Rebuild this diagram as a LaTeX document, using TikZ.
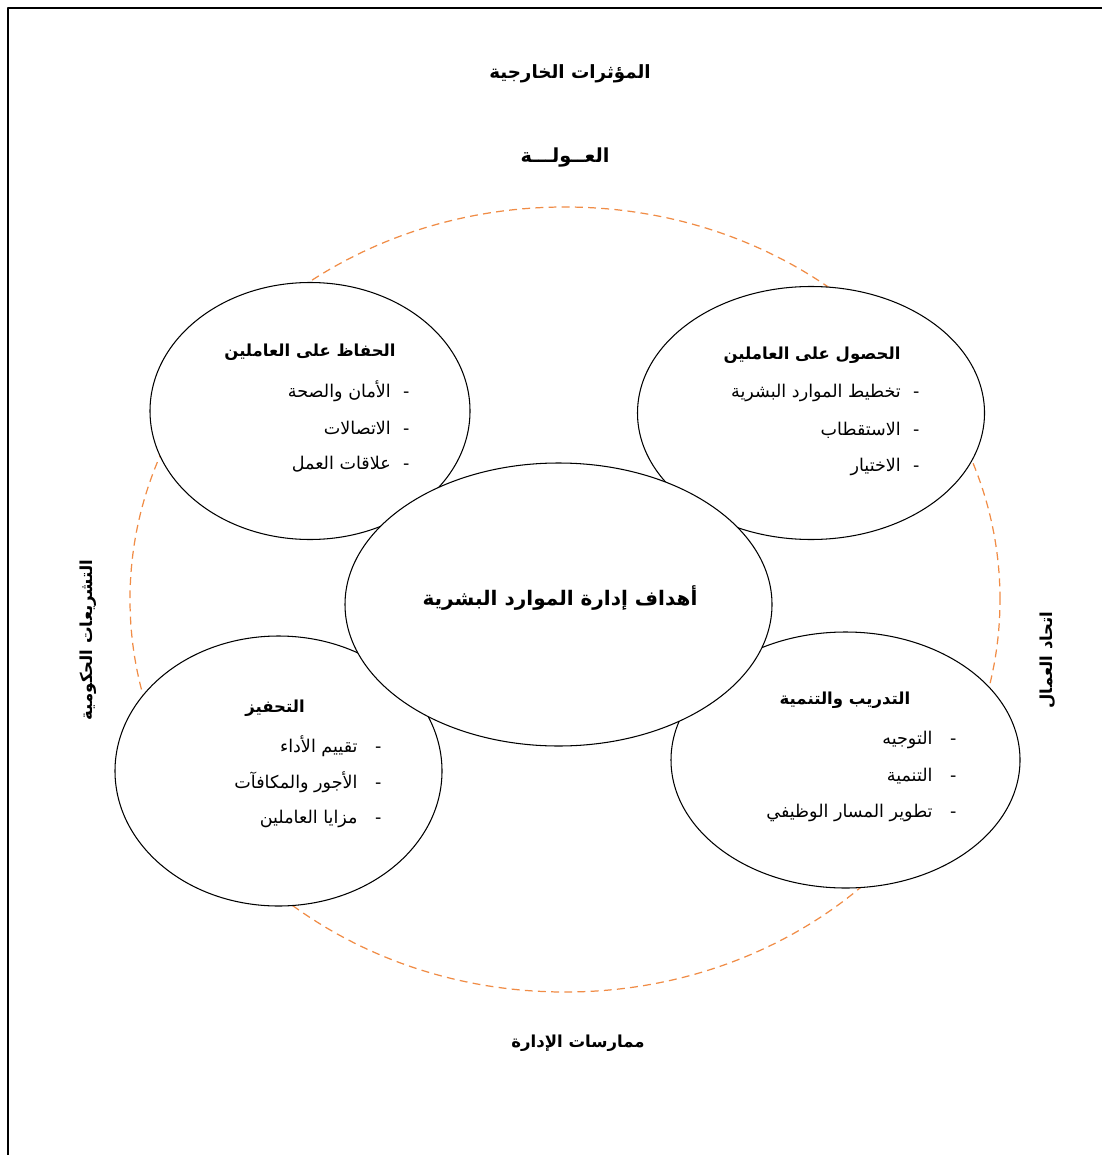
\documentclass[tikz,border=0pt]{standalone}
\usepackage{fontspec}
\newfontfamily\arabicfont[Script=Arabic]{DejaVu Sans}
\TeXXeTstate=1
\usetikzlibrary{shapes.geometric}
\definecolor{ring}{RGB}{240,140,70}
\newcommand{\ar}[1]{\beginR #1\endR}
\tikzset{
  every picture/.style={line width=0.6pt, line join=round},
  every node/.style={font=\arabicfont},
  % Ellipsen
  blob/.style={ellipse, draw, fill=white, inner sep=0pt},
  outer/.style={ring, line width=0.7pt, dash pattern=on 4.5pt off 3pt},
  % Schrift
  head/.style={font=\arabicfont\bfseries\fontsize{9.4}{11}\selectfont},
  big/.style={font=\arabicfont\bfseries\fontsize{10.4}{12}\selectfont},
  itm/.style={anchor=east, inner sep=0pt, font=\arabicfont\fontsize{10}{12}\selectfont},
}

\begin{document}
\begin{tikzpicture}
  \useasboundingbox (0,0) rectangle (22.2,-23.1);
  % Rahmen
  \draw[line width=1.2pt] (0.16,-23.1) -- (0.16,-0.16) -- (22.04,-0.16);
  % aeusserer Ring
  \draw[outer] (11.3,-11.99) ellipse [x radius=8.7, y radius=7.85];
  % Einflussfaktoren
  \node[big] (ext) at (11.4,-1.48) {\ar{المؤثرات الخارجية}};
  \node[head, font=\arabicfont\bfseries\fontsize{11}{13}\selectfont] (glob) at (11.3,-3.16) {\ar{العــولـــة}};
  \node[head, rotate=90] (law) at (1.76,-12.8) {\ar{التشريعات الحكومية}};
  \node[head, rotate=90] (union) at (20.96,-13.2) {\ar{اتحاد العمال}};
  \node[head] (mgmt) at (11.56,-20.86) {\ar{ممارسات الإدارة}};
  % Ellipsen
  \node[blob, minimum width=6.94cm, minimum height=5.06cm] (get) at (16.22,-8.26) {};
  \node[blob, minimum width=6.4cm, minimum height=5.14cm] (keep) at (6.2,-8.22) {};
  \node[blob, minimum width=6.54cm, minimum height=5.4cm] (motiv) at (5.57,-15.42) {};
  \node[blob, minimum width=6.98cm, minimum height=5.12cm] (train) at (16.91,-15.2) {};
  \node[blob, minimum width=8.54cm, minimum height=5.66cm] (goal) at (11.17,-12.09) {};
  \node[big, font=\arabicfont\bfseries\fontsize{11.4}{13}\selectfont] (goalt) at (11.2,-11.96) {\ar{أهداف إدارة الموارد البشرية}};
  % Inhalte oben rechts
  \node[head] (gett) at (16.24,-7.1) {\ar{الحصول على العاملين}};
  \node[itm] (get1) at (18.4,-7.86) {\ar{-\hspace{7pt}تخطيط الموارد البشرية}};
  \node[itm] (get2) at (18.4,-8.6) {\ar{-\hspace{7pt}الاستقطاب}};
  \node[itm] (get3) at (18.4,-9.34) {\ar{-\hspace{7pt}الاختيار}};
  % oben links
  \node[head] (keept) at (6.2,-7.04) {\ar{الحفاظ على العاملين}};
  \node[itm] (keep1) at (8.2,-7.82) {\ar{-\hspace{7pt}الأمان والصحة}};
  \node[itm] (keep2) at (8.2,-8.56) {\ar{-\hspace{7pt}الاتصالات}};
  \node[itm] (keep3) at (8.2,-9.28) {\ar{-\hspace{7pt}علاقات العمل}};
  % unten links
  \node[head] (motivt) at (5.5,-14.16) {\ar{التحفيز}};
  \node[itm] (motiv1) at (7.64,-14.92) {\ar{-\hspace{10pt}تقييم الأداء}};
  \node[itm] (motiv2) at (7.64,-15.64) {\ar{-\hspace{10pt}الأجور والمكافآت}};
  \node[itm] (motiv3) at (7.64,-16.38) {\ar{-\hspace{10pt}مزايا العاملين}};
  % unten rechts
  \node[head] (traint) at (16.9,-14.0) {\ar{التدريب والتنمية}};
  \node[itm] (train1) at (19.14,-14.8) {\ar{-\hspace{10pt}التوجيه}};
  \node[itm] (train2) at (19.14,-15.52) {\ar{-\hspace{10pt}التنمية}};
  \node[itm] (train3) at (19.14,-16.26) {\ar{-\hspace{10pt}تطوير المسار الوظيفي}};
\end{tikzpicture}
\end{document}
